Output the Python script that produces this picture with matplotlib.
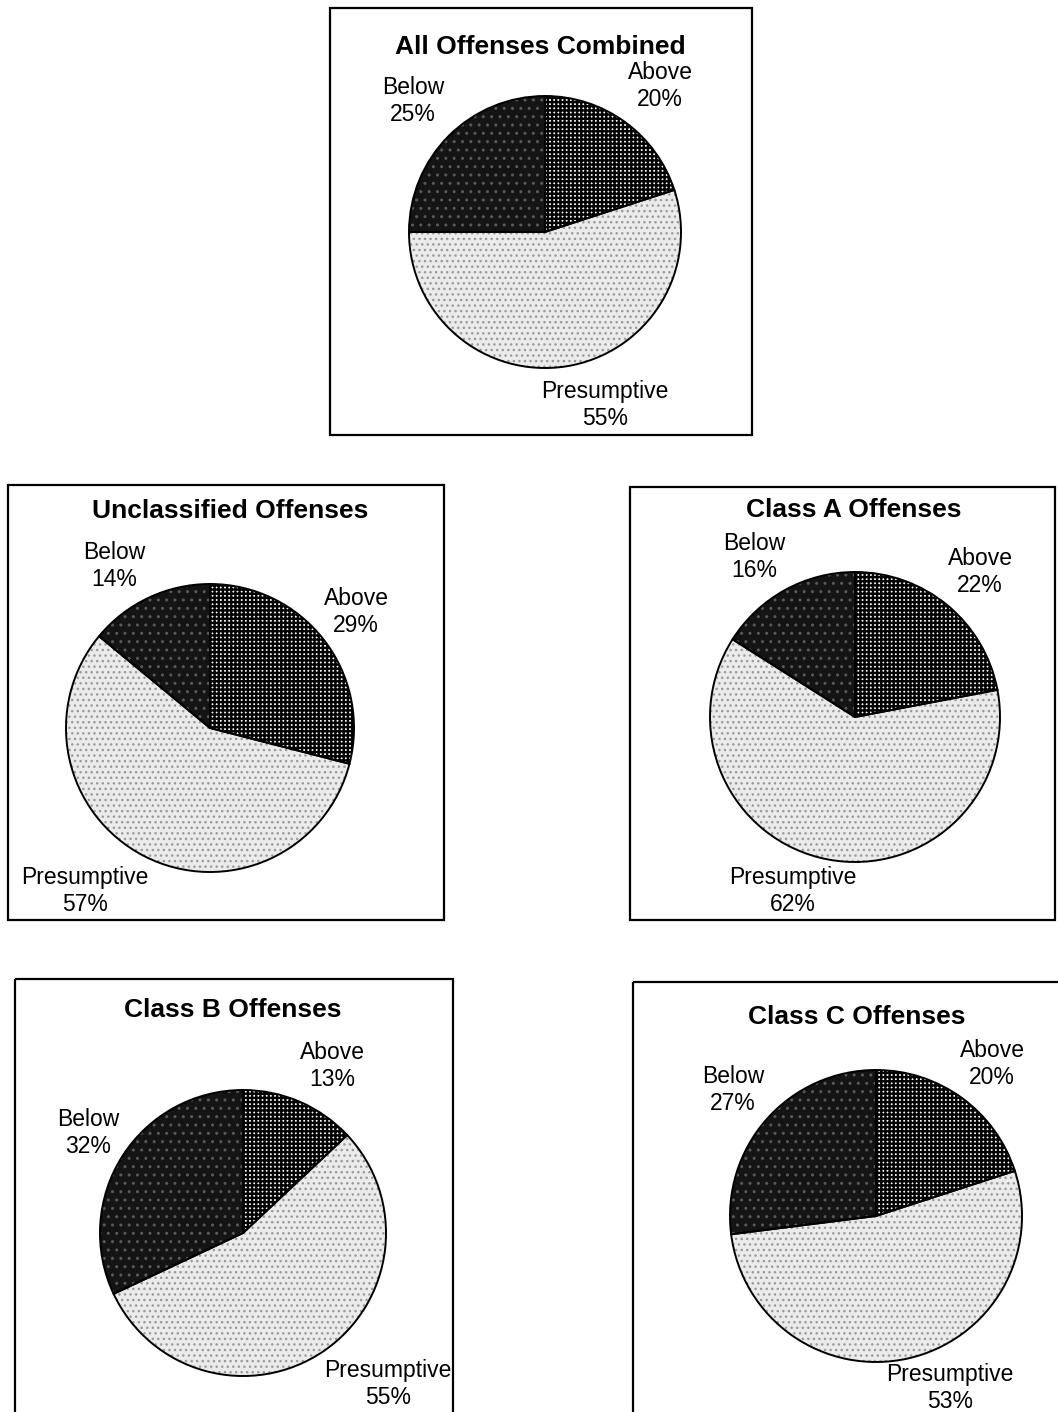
import matplotlib.pyplot as plt
from matplotlib.patches import Rectangle

plt.rcParams["font.family"] = ["Liberation Sans", "DejaVu Sans"]
plt.rcParams["hatch.linewidth"] = 1.3

# data
titles = ["All Offenses Combined", "Unclassified Offenses", "Class A Offenses",
          "Class B Offenses", "Class C Offenses"]
above = [20, 29, 22, 13, 20]
presumptive = [55, 57, 62, 55, 53]
below = [25, 14, 16, 32, 27]

W, H = 1058, 1412

# layout in pixels (y measured from top)
boxes = [(330, 8, 422, 427), (8, 485, 436, 435), (630, 487, 425, 433),
         (15, 979, 438, 460), (633, 982, 460, 460)]
title_pos = [(540, 47), (230, 511), (854, 510), (233, 1010), (857, 1017)]
pie_pos = [(545, 232, 136), (210, 728, 144), (855, 717, 145),
           (243, 1233, 143), (876, 1216, 146)]
above_pos = [(660, 86), (356, 612), (980, 572), (332, 1066), (992, 1064)]
pres_pos = [(605, 405), (85, 891), (793, 891), (388, 1384), (950, 1388)]
below_pos = [(413, 101), (114, 566), (754, 557), (88, 1133), (733, 1090)]

fills = ["white", "#ebebeb", "#141414"]
hatch_cols = ["black", "#9a9a9a", "#5a5a5a"]
hatches = ["++++", "...", ".."]
hatch_lw = [1.7, 1.0, 1.0]

fig = plt.figure(figsize=(W / 100, H / 100), dpi=100)
bg = fig.add_axes([0, 0, 1, 1])
bg.set_xlim(0, W)
bg.set_ylim(H, 0)
bg.axis("off")

for i in range(len(titles)):
    x0, y0, bw, bh = boxes[i]
    bg.add_patch(Rectangle((x0, y0), bw, bh, fill=False, lw=1.6,
                           ec="black", clip_on=False))
    bg.text(*title_pos[i], titles[i], ha="center", va="center",
            fontsize=19, fontweight="bold")
    for pos, txt in [(above_pos[i], f"Above\n{above[i]}%"),
                     (pres_pos[i], f"Presumptive\n{presumptive[i]}%"),
                     (below_pos[i], f"Below\n{below[i]}%")]:
        bg.text(*pos, txt, ha="center", va="center", fontsize=16.5,
                linespacing=1.2)

    cx, cy, r = pie_pos[i]
    pad = 1.05
    ax = fig.add_axes([(cx - r * pad) / W, 1 - (cy + r * pad) / H,
                       2 * r * pad / W, 2 * r * pad / H])
    vals = [above[i], presumptive[i], below[i]]
    wedges, _ = ax.pie(vals, startangle=90, counterclock=False, radius=1)
    for w, fc, hc, ht, hl in zip(wedges, fills, hatch_cols, hatches, hatch_lw):
        w.set_facecolor(fc)
        w.set_edgecolor(hc)
        w.set_hatch(ht)
        w.set_linewidth(0)
        if hasattr(w, "set_hatch_linewidth"):
            w.set_hatch_linewidth(hl)
    ax.pie(vals, startangle=90, counterclock=False, radius=1,
           wedgeprops=dict(facecolor="none", edgecolor="black", lw=1.4))
    ax.set_xlim(-pad, pad)
    ax.set_ylim(-pad, pad)

fig.savefig("out.png", dpi=100)
